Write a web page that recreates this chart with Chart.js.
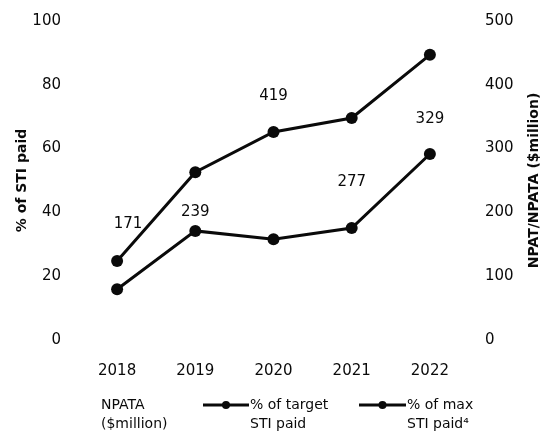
<!DOCTYPE html>
<html>
<head>
<meta charset="utf-8">
<script src="https://cdn.jsdelivr.net/npm/chart.js@4/dist/chart.umd.min.js"></script>
<style>
html,body{margin:0;padding:0;background:#fff;}
#wrap{width:542px;height:431px;position:relative;}
</style>
</head>
<body>
<div id="wrap"><canvas id="c" width="542" height="431"></canvas></div>
<script>
const years = ['2018','2019','2020','2021','2022'];
const npata = [171, 239, 419, 277, 329];
const targetPaid = [24.8, 52.6, 65.2, 69.6, 89.4];
const maxPaid = [15.9, 34.2, 31.6, 35.1, 58.3];
const leftTicks = [0, 20, 40, 60, 80, 100];
const rightTicks = [0, 100, 200, 300, 400, 500];

const INK = '#0a0a0a';
const FONT = 'DejaVu Sans';

// pixel nudges for the NPATA value labels (layout only)
const labelNudge = [{dx:11,dy:-7},{dx:0,dy:25},{dx:0,dy:23},{dx:0,dy:19},{dx:0,dy:-11}];

const extras = {
  id: 'extras',
  afterDatasetsDraw(chart) {
    const ctx = chart.ctx;
    const meta = chart.getDatasetMeta(0);
    const yR = chart.scales.y1;
    ctx.save();
    ctx.fillStyle = INK;
    ctx.font = '15px "' + FONT + '"';
    ctx.textAlign = 'center';
    ctx.textBaseline = 'middle';
    meta.data.forEach((el, i) => {
      const n = labelNudge[i];
      ctx.fillText(String(npata[i]), el.x + n.dx, yR.getPixelForValue(npata[i]) + n.dy);
    });
    // right axis title (reads bottom to top)
    ctx.save();
    ctx.translate(534, (chart.chartArea.top + chart.chartArea.bottom) / 2);
    ctx.rotate(-Math.PI / 2);
    ctx.font = 'bold 14px "' + FONT + '"';
    ctx.fillText('NPAT/NPATA ($million)', 0, 0);
    ctx.restore();
    // legend
    ctx.font = '14px "' + FONT + '"';
    ctx.textAlign = 'left';
    ctx.fillText('NPATA', 101, 405);
    ctx.fillText('($million)', 101, 424);
    const items = [
      {x0: 203, x1: 249, l1: '% of target', l2: 'STI paid'},
      {x0: 359, x1: 406, l1: '% of max', l2: 'STI paid\u2074'}
    ];
    items.forEach(it => {
      ctx.strokeStyle = INK;
      ctx.lineWidth = 3;
      ctx.beginPath();
      ctx.moveTo(it.x0, 405);
      ctx.lineTo(it.x1, 405);
      ctx.stroke();
      ctx.beginPath();
      ctx.arc((it.x0 + it.x1) / 2, 405, 4, 0, Math.PI * 2);
      ctx.fill();
      ctx.fillText(it.l1, it.x1 + 1, 405);
      ctx.fillText(it.l2, it.x1 + 1, 424);
    });
    ctx.restore();
  }
};

new Chart(document.getElementById('c'), {
  data: {
    labels: years,
    datasets: [
      {
        type: 'bar',
        label: 'NPATA ($million)',
        data: npata,
        yAxisID: 'y1',
        backgroundColor: 'rgba(0,0,0,0)',
        borderWidth: 0,
        order: 3
      },
      {
        type: 'line',
        label: '% of target STI paid',
        data: targetPaid,
        yAxisID: 'y',
        borderColor: INK,
        backgroundColor: INK,
        borderWidth: 3,
        pointRadius: 6,
        pointHoverRadius: 6,
        pointBackgroundColor: INK,
        pointBorderWidth: 0,
        tension: 0,
        order: 1
      },
      {
        type: 'line',
        label: '% of max STI paid',
        data: maxPaid,
        yAxisID: 'y',
        borderColor: INK,
        backgroundColor: INK,
        borderWidth: 3,
        pointRadius: 6,
        pointHoverRadius: 6,
        pointBackgroundColor: INK,
        pointBorderWidth: 0,
        tension: 0,
        order: 2
      }
    ]
  },
  options: {
    responsive: false,
    animation: false,
    events: [],
    layout: { padding: { top: 0, left: 0, right: 0, bottom: 0 } },
    plugins: { legend: { display: false }, tooltip: { enabled: false } },
    scales: {
      x: {
        offset: true,
        grid: { display: false, drawTicks: false },
        border: { display: false },
        ticks: { padding: 22, color: INK, font: { family: FONT, size: 15 } },
        afterFit: s => { s.height = 91; }
      },
      y: {
        position: 'left',
        min: leftTicks[0],
        max: leftTicks[leftTicks.length - 1],
        afterBuildTicks: s => { s.ticks = leftTicks.map(v => ({ value: v })); },
        grid: { display: false, drawTicks: false },
        border: { display: false },
        ticks: { padding: 17, color: INK, font: { family: FONT, size: 15 } },
        title: { display: true, text: '% of STI paid', color: INK, font: { family: FONT, size: 14, weight: 'bold' }, padding: { top: 13.6, bottom: 0 } },
        afterFit: s => { s.width = 78; s.paddingTop = 21; }
      },
      y1: {
        position: 'right',
        min: rightTicks[0],
        max: rightTicks[rightTicks.length - 1],
        afterBuildTicks: s => { s.ticks = rightTicks.map(v => ({ value: v })); },
        grid: { display: false, drawTicks: false },
        border: { display: false },
        ticks: { padding: 16, color: INK, font: { family: FONT, size: 15 } },
        afterFit: s => { s.width = 73; s.paddingTop = 21; }
      }
    }
  },
  plugins: [extras]
});
</script>
</body>
</html>
